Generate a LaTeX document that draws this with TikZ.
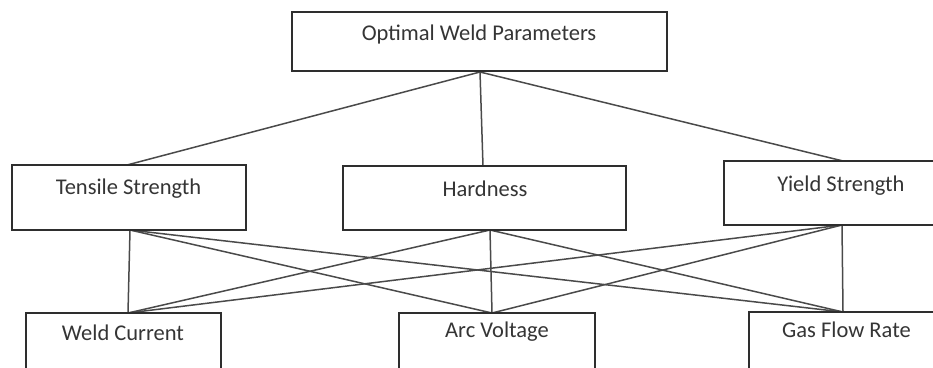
\documentclass[tikz,border=0pt]{standalone}
\usepackage{fontspec}
\setmainfont{Carlito}
\definecolor{boxline}{HTML}{2E2E2E}
\definecolor{linkline}{HTML}{4A4A4A}
\definecolor{labeltext}{HTML}{353535}
\tikzset{
  box/.style={draw=boxline, line width=2.6pt, fill=white},
  label/.style={font=\fontsize{22.5}{26}\selectfont, text=labeltext, inner sep=0pt, anchor=base},
  link/.style={draw=linkline, line width=1.5pt},
}
\begin{document}
\begin{tikzpicture}[x=1pt,y=-1pt]
\useasboundingbox (0,0) rectangle (933,367);
\clip (0,0) rectangle (933,367);

% anchor points where connectors meet the boxes
\coordinate (opt-b) at (480,72);
\coordinate (ts-t) at (127,165);
\coordinate (ts-b) at (130,230);
\coordinate (hd-t) at (483,166);
\coordinate (hd-b) at (490,230);
\coordinate (ys-t) at (843,161);
\coordinate (ys-b) at (842,225);
\coordinate (wc-t) at (128,313);
\coordinate (av-t) at (492,313);
\coordinate (gf-t) at (843,312);

% connectors
\draw[link] (opt-b) -- (ts-t);
\draw[link] (opt-b) -- (hd-t);
\draw[link] (opt-b) -- (ys-t);
\foreach \u in {ts-b,hd-b,ys-b}{
  \foreach \v in {wc-t,av-t,gf-t}{
    \draw[link] (\u) -- (\v);
  }
}

% boxes
\draw[box] (292,12) rectangle (667,71);
\draw[box] (12,165) rectangle (246,230);
\draw[box] (343,166) rectangle (626,230);
\draw[box] (724,161) rectangle (950,225);
\draw[box] (26,313) rectangle (221,380);
\draw[box] (399,313) rectangle (595,380);
\draw[box] (749,312) rectangle (950,380);

% labels, placed on their baselines
\node[label] (opt) at (479,40) {Optimal Weld Parameters};
\node[label] (ts) at (128.5,194) {Tensile Strength};
\node[label] (hd) at (485,196) {Hardness};
\node[label] (ys) at (841,191) {Yield Strength};
\node[label] (wc) at (123,340) {Weld Current};
\node[label] (av) at (497,337) {Arc Voltage};
\node[label] (gf) at (846.5,337) {Gas Flow Rate};
\end{tikzpicture}
\end{document}
